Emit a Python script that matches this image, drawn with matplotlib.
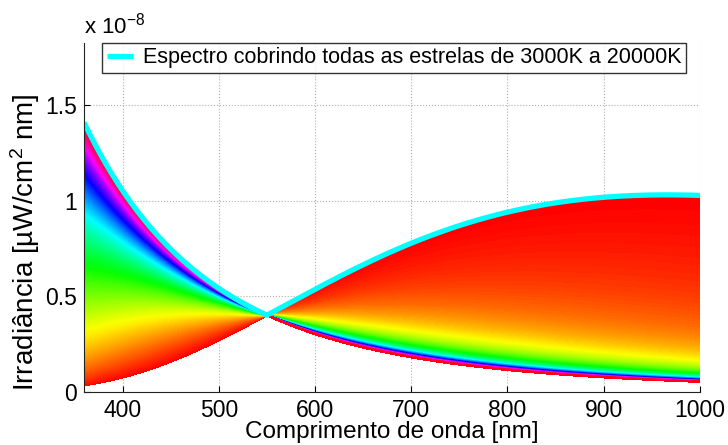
import numpy as np
import matplotlib
matplotlib.use("Agg")
import matplotlib.pyplot as plt
from matplotlib.collections import LineCollection

plt.rcParams['font.family'] = ['Liberation Sans', 'DejaVu Sans']
plt.rcParams['mathtext.fontset'] = 'custom'
plt.rcParams['mathtext.rm'] = 'Liberation Sans'
plt.rcParams['mathtext.it'] = 'Liberation Sans:italic'

# star temperatures (K) and wavelength grid (nm)
temperatures = np.arange(3000, 20001, 10)
wavelengths = np.arange(360, 1001, 2)
# all curves are scaled to meet at this point (value in units of 1e-8)
ref_wavelength = 550
ref_value = 0.4

xticks = [400, 500, 600, 700, 800, 900, 1000]
yticks = [0, 0.5, 1, 1.5]
ytick_labels = ['0', '0.5', '1', '1.5']

legend_label = 'Espectro cobrindo todas as estrelas de 3000K a 20000K'
xlabel = 'Comprimento de onda [nm]'
ylabel = 'Irradiância [µW/cm$^{2}$ nm]'

C2 = 1.4388e7  # hc/k in nm*K


def planck(lam, T):
    return lam ** -5.0 / np.expm1(C2 / (lam * T))


curves = []
for T in temperatures:
    b = planck(wavelengths, T) / planck(ref_wavelength, T) * ref_value
    curves.append(b)
curves = np.array(curves)
envelope = curves.max(axis=0)

fig = plt.figure(figsize=(7.28, 4.45), dpi=100)
ax = fig.add_axes([0.1154, 0.1200, 0.8461, 0.7834])

segs = [np.column_stack([wavelengths, c]) for c in curves]
colors = plt.cm.hsv(np.linspace(0, 1, len(curves)))
lc = LineCollection(segs, colors=colors, linewidths=1.0, antialiaseds=False)
ax.add_collection(lc)

ax.plot(wavelengths, envelope, color='#00ffff', linewidth=3.8, solid_capstyle='butt',
        label=legend_label)

ax.set_xlim(360, 1000)
ax.set_ylim(0, 1.825)
ax.set_xticks(xticks)
ax.set_yticks(yticks)
ax.set_yticklabels(ytick_labels)
ax.tick_params(direction='in', length=4, width=0.8, labelsize=16.5, pad=5)
ax.grid(True, linestyle=':', color='#b0b0b0', linewidth=0.8)
ax.set_axisbelow(True)
for s in ['top', 'right']:
    ax.spines[s].set_visible(False)
for s in ['left', 'bottom']:
    ax.spines[s].set_linewidth(0.8)
    ax.spines[s].set_color('#222222')

ax.set_xlabel(xlabel, fontsize=17.5)
ax.xaxis.set_label_coords(0.5, -0.084)
ax.set_ylabel(ylabel, fontsize=20)
ax.yaxis.set_label_coords(-0.068, 0.43)

fig.text(0.1154, 0.925, 'x 10$^{-8}$', fontsize=16, ha='left', va='baseline')

leg = ax.legend(loc='upper left', bbox_to_anchor=(0.03, 1.0), fontsize=15.5,
                frameon=True, fancybox=False, handlelength=1.2, borderpad=0.2,
                handletextpad=0.5, borderaxespad=0.0)
leg.get_frame().set_edgecolor('black')
leg.get_frame().set_linewidth(1.0)

fig.savefig('out.png', dpi=100)
